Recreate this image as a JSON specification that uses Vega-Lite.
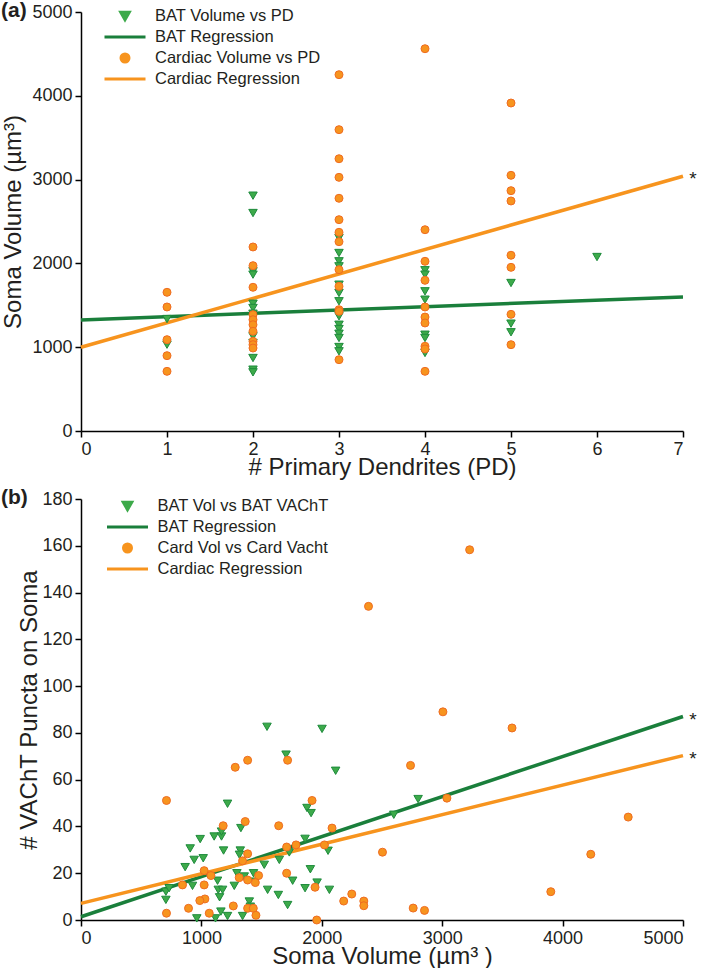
{
  "$schema": "https://vega.github.io/schema/vega-lite/v6.json",
  "padding": {"left": 1, "top": 0, "right": 0, "bottom": 0},
  "spacing": 8,
  "config": {
    "font": "Liberation Sans",
    "view": {"stroke": null},
    "axis": {"grid": false, "domainColor": "#000000", "tickColor": "#000000", "domainWidth": 1.5, "tickWidth": 1.5, "tickSize": 6, "labelColor": "#231F20", "titleColor": "#231F20", "labelFontSize": 18, "titleFontSize": 24, "titleFontWeight": "normal", "labelPadding": 3, "format": "d"},
    "legend": {"labelFontSize": 16.5, "labelColor": "#231F20", "labelOffset": 8, "padding": 0, "rowPadding": 4, "labelLimit": 400, "clipHeight": 17, "symbolStrokeWidth": 3}
  },
  "resolve": {"scale": {"color": "independent", "shape": "independent", "stroke": "independent", "size": "independent"}, "legend": {"color": "independent", "shape": "independent", "size": "independent"}},
  "datasets": {
    "aPts": [
      {"s": "BAT Volume vs PD", "x": 1, "y": 1336}, {"s": "BAT Volume vs PD", "x": 1, "y": 1030},
      {"s": "BAT Volume vs PD", "x": 2, "y": 2808}, {"s": "BAT Volume vs PD", "x": 2, "y": 2601}, {"s": "BAT Volume vs PD", "x": 2, "y": 1906}, {"s": "BAT Volume vs PD", "x": 2, "y": 1866}, {"s": "BAT Volume vs PD", "x": 2, "y": 1519}, {"s": "BAT Volume vs PD", "x": 2, "y": 1468}, {"s": "BAT Volume vs PD", "x": 2, "y": 1400}, {"s": "BAT Volume vs PD", "x": 2, "y": 1350}, {"s": "BAT Volume vs PD", "x": 2, "y": 1130}, {"s": "BAT Volume vs PD", "x": 2, "y": 1050}, {"s": "BAT Volume vs PD", "x": 2, "y": 871}, {"s": "BAT Volume vs PD", "x": 2, "y": 732}, {"s": "BAT Volume vs PD", "x": 2, "y": 700},
      {"s": "BAT Volume vs PD", "x": 3, "y": 2303}, {"s": "BAT Volume vs PD", "x": 3, "y": 2124}, {"s": "BAT Volume vs PD", "x": 3, "y": 2025}, {"s": "BAT Volume vs PD", "x": 3, "y": 1965}, {"s": "BAT Volume vs PD", "x": 3, "y": 1746}, {"s": "BAT Volume vs PD", "x": 3, "y": 1647}, {"s": "BAT Volume vs PD", "x": 3, "y": 1548}, {"s": "BAT Volume vs PD", "x": 3, "y": 1369}, {"s": "BAT Volume vs PD", "x": 3, "y": 1268}, {"s": "BAT Volume vs PD", "x": 3, "y": 1217}, {"s": "BAT Volume vs PD", "x": 3, "y": 1161}, {"s": "BAT Volume vs PD", "x": 3, "y": 1110}, {"s": "BAT Volume vs PD", "x": 3, "y": 1002}, {"s": "BAT Volume vs PD", "x": 3, "y": 951},
      {"s": "BAT Volume vs PD", "x": 4, "y": 1918}, {"s": "BAT Volume vs PD", "x": 4, "y": 1866}, {"s": "BAT Volume vs PD", "x": 4, "y": 1667}, {"s": "BAT Volume vs PD", "x": 4, "y": 1567}, {"s": "BAT Volume vs PD", "x": 4, "y": 1149}, {"s": "BAT Volume vs PD", "x": 4, "y": 1110}, {"s": "BAT Volume vs PD", "x": 4, "y": 931},
      {"s": "BAT Volume vs PD", "x": 5, "y": 1766}, {"s": "BAT Volume vs PD", "x": 5, "y": 1281}, {"s": "BAT Volume vs PD", "x": 5, "y": 1178},
      {"s": "BAT Volume vs PD", "x": 6, "y": 2076},
      {"s": "Cardiac Volume vs PD", "x": 1, "y": 1655}, {"s": "Cardiac Volume vs PD", "x": 1, "y": 1480}, {"s": "Cardiac Volume vs PD", "x": 1, "y": 1090}, {"s": "Cardiac Volume vs PD", "x": 1, "y": 899}, {"s": "Cardiac Volume vs PD", "x": 1, "y": 712},
      {"s": "Cardiac Volume vs PD", "x": 2, "y": 2196}, {"s": "Cardiac Volume vs PD", "x": 2, "y": 1973}, {"s": "Cardiac Volume vs PD", "x": 2, "y": 1715}, {"s": "Cardiac Volume vs PD", "x": 2, "y": 1388}, {"s": "Cardiac Volume vs PD", "x": 2, "y": 1328}, {"s": "Cardiac Volume vs PD", "x": 2, "y": 1268}, {"s": "Cardiac Volume vs PD", "x": 2, "y": 1190}, {"s": "Cardiac Volume vs PD", "x": 2, "y": 1070}, {"s": "Cardiac Volume vs PD", "x": 2, "y": 1030}, {"s": "Cardiac Volume vs PD", "x": 2, "y": 990},
      {"s": "Cardiac Volume vs PD", "x": 3, "y": 4252}, {"s": "Cardiac Volume vs PD", "x": 3, "y": 3596}, {"s": "Cardiac Volume vs PD", "x": 3, "y": 3249}, {"s": "Cardiac Volume vs PD", "x": 3, "y": 3027}, {"s": "Cardiac Volume vs PD", "x": 3, "y": 2777}, {"s": "Cardiac Volume vs PD", "x": 3, "y": 2522}, {"s": "Cardiac Volume vs PD", "x": 3, "y": 2371}, {"s": "Cardiac Volume vs PD", "x": 3, "y": 2259}, {"s": "Cardiac Volume vs PD", "x": 3, "y": 1925}, {"s": "Cardiac Volume vs PD", "x": 3, "y": 1726}, {"s": "Cardiac Volume vs PD", "x": 3, "y": 1448}, {"s": "Cardiac Volume vs PD", "x": 3, "y": 1428}, {"s": "Cardiac Volume vs PD", "x": 3, "y": 851},
      {"s": "Cardiac Volume vs PD", "x": 4, "y": 4562}, {"s": "Cardiac Volume vs PD", "x": 4, "y": 2402}, {"s": "Cardiac Volume vs PD", "x": 4, "y": 2025}, {"s": "Cardiac Volume vs PD", "x": 4, "y": 1798}, {"s": "Cardiac Volume vs PD", "x": 4, "y": 1480}, {"s": "Cardiac Volume vs PD", "x": 4, "y": 1360}, {"s": "Cardiac Volume vs PD", "x": 4, "y": 1289}, {"s": "Cardiac Volume vs PD", "x": 4, "y": 1011}, {"s": "Cardiac Volume vs PD", "x": 4, "y": 979}, {"s": "Cardiac Volume vs PD", "x": 4, "y": 712},
      {"s": "Cardiac Volume vs PD", "x": 5, "y": 3914}, {"s": "Cardiac Volume vs PD", "x": 5, "y": 3051}, {"s": "Cardiac Volume vs PD", "x": 5, "y": 2868}, {"s": "Cardiac Volume vs PD", "x": 5, "y": 2745}, {"s": "Cardiac Volume vs PD", "x": 5, "y": 2097}, {"s": "Cardiac Volume vs PD", "x": 5, "y": 1953}, {"s": "Cardiac Volume vs PD", "x": 5, "y": 1392}, {"s": "Cardiac Volume vs PD", "x": 5, "y": 1030}
    ],
    "aReg": [
      {"s": "BAT Regression", "x": 0, "y": 1325}, {"s": "BAT Regression", "x": 7, "y": 1600},
      {"s": "Cardiac Regression", "x": 0, "y": 1000}, {"s": "Cardiac Regression", "x": 7, "y": 3040, "sig": "*"}
    ],
    "bPts": [
      {"s": "BAT Vol vs BAT VAChT", "x": 1545, "y": 82.6}, {"s": "BAT Vol vs BAT VAChT", "x": 2002, "y": 81.7}, {"s": "BAT Vol vs BAT VAChT", "x": 1703, "y": 70.7}, {"s": "BAT Vol vs BAT VAChT", "x": 2115, "y": 63.8}, {"s": "BAT Vol vs BAT VAChT", "x": 1217, "y": 49.7}, {"s": "BAT Vol vs BAT VAChT", "x": 1877, "y": 47.9}, {"s": "BAT Vol vs BAT VAChT", "x": 1911, "y": 45.7}, {"s": "BAT Vol vs BAT VAChT", "x": 2800, "y": 51.7}, {"s": "BAT Vol vs BAT VAChT", "x": 2598, "y": 45},
      {"s": "BAT Vol vs BAT VAChT", "x": 990, "y": 34.6}, {"s": "BAT Vol vs BAT VAChT", "x": 1106, "y": 35.7}, {"s": "BAT Vol vs BAT VAChT", "x": 1167, "y": 35.7}, {"s": "BAT Vol vs BAT VAChT", "x": 1167, "y": 37.8}, {"s": "BAT Vol vs BAT VAChT", "x": 1328, "y": 39.3}, {"s": "BAT Vol vs BAT VAChT", "x": 907, "y": 30.6}, {"s": "BAT Vol vs BAT VAChT", "x": 1184, "y": 29.7}, {"s": "BAT Vol vs BAT VAChT", "x": 1323, "y": 29.7}, {"s": "BAT Vol vs BAT VAChT", "x": 1316, "y": 27.9}, {"s": "BAT Vol vs BAT VAChT", "x": 940, "y": 25.7}, {"s": "BAT Vol vs BAT VAChT", "x": 1015, "y": 26.4}, {"s": "BAT Vol vs BAT VAChT", "x": 865, "y": 22.6},
      {"s": "BAT Vol vs BAT VAChT", "x": 1134, "y": 16.8}, {"s": "BAT Vol vs BAT VAChT", "x": 926, "y": 14.6}, {"s": "BAT Vol vs BAT VAChT", "x": 1273, "y": 14.6}, {"s": "BAT Vol vs BAT VAChT", "x": 1295, "y": 20}, {"s": "BAT Vol vs BAT VAChT", "x": 1522, "y": 23.6}, {"s": "BAT Vol vs BAT VAChT", "x": 1647, "y": 25.7}, {"s": "BAT Vol vs BAT VAChT", "x": 1758, "y": 16.8}, {"s": "BAT Vol vs BAT VAChT", "x": 1905, "y": 21.7}, {"s": "BAT Vol vs BAT VAChT", "x": 1861, "y": 34.7}, {"s": "BAT Vol vs BAT VAChT", "x": 1730, "y": 28.9}, {"s": "BAT Vol vs BAT VAChT", "x": 2052, "y": 29.6}, {"s": "BAT Vol vs BAT VAChT", "x": 1961, "y": 16},
      {"s": "BAT Vol vs BAT VAChT", "x": 2063, "y": 12.9}, {"s": "BAT Vol vs BAT VAChT", "x": 1861, "y": 13.6}, {"s": "BAT Vol vs BAT VAChT", "x": 1550, "y": 12.9}, {"s": "BAT Vol vs BAT VAChT", "x": 1639, "y": 10.7}, {"s": "BAT Vol vs BAT VAChT", "x": 1716, "y": 6.4}, {"s": "BAT Vol vs BAT VAChT", "x": 1433, "y": 20}, {"s": "BAT Vol vs BAT VAChT", "x": 1445, "y": 16.4}, {"s": "BAT Vol vs BAT VAChT", "x": 1356, "y": 18.6}, {"s": "BAT Vol vs BAT VAChT", "x": 1140, "y": 12.9}, {"s": "BAT Vol vs BAT VAChT", "x": 1176, "y": 12.9}, {"s": "BAT Vol vs BAT VAChT", "x": 1151, "y": 9.7},
      {"s": "BAT Vol vs BAT VAChT", "x": 705, "y": 12.1}, {"s": "BAT Vol vs BAT VAChT", "x": 732, "y": 13.6}, {"s": "BAT Vol vs BAT VAChT", "x": 705, "y": 8.6}, {"s": "BAT Vol vs BAT VAChT", "x": 1398, "y": 7.9}, {"s": "BAT Vol vs BAT VAChT", "x": 1162, "y": 3.6}, {"s": "BAT Vol vs BAT VAChT", "x": 1217, "y": 1.7}, {"s": "BAT Vol vs BAT VAChT", "x": 1342, "y": 1.7}, {"s": "BAT Vol vs BAT VAChT", "x": 962, "y": 0.7}, {"s": "BAT Vol vs BAT VAChT", "x": 1117, "y": 0.7}, {"s": "BAT Vol vs BAT VAChT", "x": 1406, "y": 5.7},
      {"s": "Card Vol vs Card Vacht", "x": 1384, "y": 68.3}, {"s": "Card Vol vs Card Vacht", "x": 1281, "y": 65.3}, {"s": "Card Vol vs Card Vacht", "x": 1716, "y": 68.3}, {"s": "Card Vol vs Card Vacht", "x": 710, "y": 51.1}, {"s": "Card Vol vs Card Vacht", "x": 1919, "y": 51.1}, {"s": "Card Vol vs Card Vacht", "x": 1181, "y": 40.3}, {"s": "Card Vol vs Card Vacht", "x": 1364, "y": 42.1}, {"s": "Card Vol vs Card Vacht", "x": 1642, "y": 40.3}, {"s": "Card Vol vs Card Vacht", "x": 2085, "y": 39.3}, {"s": "Card Vol vs Card Vacht", "x": 1708, "y": 31.2}, {"s": "Card Vol vs Card Vacht", "x": 1786, "y": 32.1}, {"s": "Card Vol vs Card Vacht", "x": 2022, "y": 32.1},
      {"s": "Card Vol vs Card Vacht", "x": 1384, "y": 28.3}, {"s": "Card Vol vs Card Vacht", "x": 1342, "y": 25.3}, {"s": "Card Vol vs Card Vacht", "x": 1023, "y": 21.1}, {"s": "Card Vol vs Card Vacht", "x": 1079, "y": 19}, {"s": "Card Vol vs Card Vacht", "x": 1708, "y": 20}, {"s": "Card Vol vs Card Vacht", "x": 1475, "y": 19}, {"s": "Card Vol vs Card Vacht", "x": 1314, "y": 18.1}, {"s": "Card Vol vs Card Vacht", "x": 1384, "y": 17.1}, {"s": "Card Vol vs Card Vacht", "x": 1448, "y": 16}, {"s": "Card Vol vs Card Vacht", "x": 843, "y": 15}, {"s": "Card Vol vs Card Vacht", "x": 1023, "y": 15}, {"s": "Card Vol vs Card Vacht", "x": 1944, "y": 14},
      {"s": "Card Vol vs Card Vacht", "x": 1029, "y": 9}, {"s": "Card Vol vs Card Vacht", "x": 987, "y": 8.3}, {"s": "Card Vol vs Card Vacht", "x": 893, "y": 5}, {"s": "Card Vol vs Card Vacht", "x": 1265, "y": 6}, {"s": "Card Vol vs Card Vacht", "x": 1384, "y": 5}, {"s": "Card Vol vs Card Vacht", "x": 1431, "y": 5}, {"s": "Card Vol vs Card Vacht", "x": 1453, "y": 2}, {"s": "Card Vol vs Card Vacht", "x": 1065, "y": 2.9}, {"s": "Card Vol vs Card Vacht", "x": 710, "y": 2.9}, {"s": "Card Vol vs Card Vacht", "x": 1958, "y": 0},
      {"s": "Card Vol vs Card Vacht", "x": 2504, "y": 29}, {"s": "Card Vol vs Card Vacht", "x": 2182, "y": 8.1}, {"s": "Card Vol vs Card Vacht", "x": 2249, "y": 11.1}, {"s": "Card Vol vs Card Vacht", "x": 2349, "y": 8.1}, {"s": "Card Vol vs Card Vacht", "x": 2349, "y": 6.1}, {"s": "Card Vol vs Card Vacht", "x": 2737, "y": 66.1}, {"s": "Card Vol vs Card Vacht", "x": 3006, "y": 89}, {"s": "Card Vol vs Card Vacht", "x": 3039, "y": 52.1}, {"s": "Card Vol vs Card Vacht", "x": 2759, "y": 5.1}, {"s": "Card Vol vs Card Vacht", "x": 2853, "y": 4.1},
      {"s": "Card Vol vs Card Vacht", "x": 3228, "y": 158.3}, {"s": "Card Vol vs Card Vacht", "x": 2388, "y": 134.1}, {"s": "Card Vol vs Card Vacht", "x": 3580, "y": 82.1}, {"s": "Card Vol vs Card Vacht", "x": 4545, "y": 44}, {"s": "Card Vol vs Card Vacht", "x": 4234, "y": 28.1}, {"s": "Card Vol vs Card Vacht", "x": 3902, "y": 12.1}
    ],
    "bReg": [
      {"s": "BAT Regression", "x": 0, "y": 1.4}, {"s": "BAT Regression", "x": 5000, "y": 87, "sig": "*"},
      {"s": "Cardiac Regression", "x": 0, "y": 7.1}, {"s": "Cardiac Regression", "x": 5000, "y": 70.3, "sig": "*"}
    ]
  },
  "vconcat": [
    {
      "width": 602,
      "height": 419,
      "title": {"text": "(a)", "anchor": "start", "frame": "group", "fontSize": 21, "fontWeight": "bold", "color": "#231F20", "dx": -80, "baseline": "top", "offset": -18},
      "layer": [
        {
          "data": {"name": "aReg"},
          "mark": {"type": "line", "strokeWidth": 3.5},
          "encoding": {
            "x": {"field": "x", "type": "quantitative", "scale": {"domain": [0, 7], "nice": false}, "axis": {"title": "# Primary Dendrites (PD)", "values": [0, 1, 2, 3, 4, 5, 6, 7], "titlePadding": -3}},
            "y": {"field": "y", "type": "quantitative", "scale": {"domain": [0, 5000], "nice": false}, "axis": {"title": "Soma Volume (µm³)", "values": [0, 1000, 2000, 3000, 4000, 5000], "titlePadding": 6}},
            "color": {"field": "s", "type": "nominal", "scale": {"domain": ["BAT Volume vs PD", "BAT Regression", "Cardiac Volume vs PD", "Cardiac Regression"], "range": ["#3DAA4A", "#1A7F3B", "#F7941E", "#F7941E"]}},
            "detail": {"field": "s"}
          }
        },
        {
          "data": {"name": "aReg"},
          "transform": [{"filter": "datum.sig"}],
          "mark": {"type": "text", "dx": 10, "dy": 3, "fontSize": 19, "color": "#231F20"},
          "encoding": {"x": {"field": "x", "type": "quantitative"}, "y": {"field": "y", "type": "quantitative"}, "text": {"field": "sig"}}
        },
        {
          "data": {"name": "aPts"},
          "mark": {"type": "point", "filled": true, "opacity": 1, "strokeWidth": 1},
          "encoding": {
            "x": {"field": "x", "type": "quantitative"},
            "y": {"field": "y", "type": "quantitative"},
            "color": {"field": "s", "type": "nominal", "scale": {"domain": ["BAT Volume vs PD", "BAT Regression", "Cardiac Volume vs PD", "Cardiac Regression"], "range": ["#3DAA4A", "#1A7F3B", "#F7941E", "#F7941E"]},
              "legend": {"title": null, "orient": "none", "legendX": 22, "legendY": -4.5}},
            "shape": {"field": "s", "type": "nominal", "scale": {"domain": ["BAT Volume vs PD", "BAT Regression", "Cardiac Volume vs PD", "Cardiac Regression"], "range": ["triangle-down", "stroke", "circle", "stroke"]},
              "legend": {"title": null, "orient": "none", "legendX": 22, "legendY": -4.5}},
            "size": {"field": "s", "type": "nominal", "scale": {"type": "ordinal", "domain": ["BAT Volume vs PD", "BAT Regression", "Cardiac Volume vs PD", "Cardiac Regression"], "range": [72, 1681, 64, 1681]},
              "legend": {"title": null, "orient": "none", "legendX": 22, "legendY": -4.5}},
            "stroke": {"field": "s", "type": "nominal", "scale": {"domain": ["BAT Volume vs PD", "Cardiac Volume vs PD"], "range": ["#1E8B3C", "#EF6C22"]}, "legend": null}
          }
        }
      ]
    },
    {
      "width": 602,
      "height": 421,
      "title": {"text": "(b)", "anchor": "start", "frame": "group", "fontSize": 21, "fontWeight": "bold", "color": "#231F20", "dx": -80, "baseline": "top", "offset": -18},
      "layer": [
        {
          "data": {"name": "bReg"},
          "mark": {"type": "line", "strokeWidth": 3.5},
          "encoding": {
            "x": {"field": "x", "type": "quantitative", "scale": {"domain": [0, 5000], "nice": false}, "axis": {"title": "Soma Volume (µm³ )", "values": [0, 1000, 2000, 3000, 4000, 5000], "titlePadding": -3}},
            "y": {"field": "y", "type": "quantitative", "scale": {"domain": [0, 180], "nice": false}, "axis": {"title": "# VAChT Puncta on Soma", "values": [0, 20, 40, 60, 80, 100, 120, 140, 160, 180], "titlePadding": 0}},
            "color": {"field": "s", "type": "nominal", "scale": {"domain": ["BAT Vol vs BAT VAChT", "BAT Regression", "Card Vol vs Card Vacht", "Cardiac Regression"], "range": ["#3DAA4A", "#1A7F3B", "#F7941E", "#F7941E"]}},
            "detail": {"field": "s"}
          }
        },
        {
          "data": {"name": "bReg"},
          "transform": [{"filter": "datum.sig"}],
          "mark": {"type": "text", "dx": 10, "dy": 3, "fontSize": 19, "color": "#231F20"},
          "encoding": {"x": {"field": "x", "type": "quantitative"}, "y": {"field": "y", "type": "quantitative"}, "text": {"field": "sig"}}
        },
        {
          "data": {"name": "bPts"},
          "mark": {"type": "point", "filled": true, "opacity": 1, "strokeWidth": 1},
          "encoding": {
            "x": {"field": "x", "type": "quantitative"},
            "y": {"field": "y", "type": "quantitative"},
            "color": {"field": "s", "type": "nominal", "scale": {"domain": ["BAT Vol vs BAT VAChT", "BAT Regression", "Card Vol vs Card Vacht", "Cardiac Regression"], "range": ["#3DAA4A", "#1A7F3B", "#F7941E", "#F7941E"]},
              "legend": {"title": null, "orient": "none", "legendX": 24.5, "legendY": -1.5}},
            "shape": {"field": "s", "type": "nominal", "scale": {"domain": ["BAT Vol vs BAT VAChT", "BAT Regression", "Card Vol vs Card Vacht", "Cardiac Regression"], "range": ["triangle-down", "stroke", "circle", "stroke"]},
              "legend": {"title": null, "orient": "none", "legendX": 24.5, "legendY": -1.5}},
            "size": {"field": "s", "type": "nominal", "scale": {"type": "ordinal", "domain": ["BAT Vol vs BAT VAChT", "BAT Regression", "Card Vol vs Card Vacht", "Cardiac Regression"], "range": [72, 1681, 64, 1681]},
              "legend": {"title": null, "orient": "none", "legendX": 24.5, "legendY": -1.5}},
            "stroke": {"field": "s", "type": "nominal", "scale": {"domain": ["BAT Vol vs BAT VAChT", "Card Vol vs Card Vacht"], "range": ["#1E8B3C", "#EF6C22"]}, "legend": null}
          }
        }
      ]
    }
  ]
}
